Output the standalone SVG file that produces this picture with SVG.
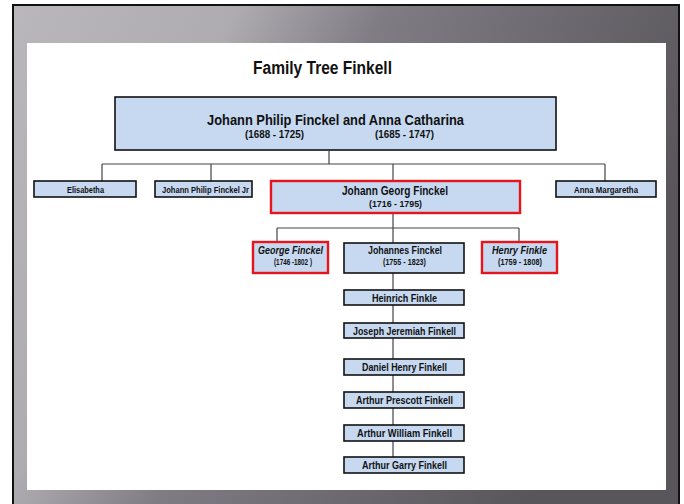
<svg xmlns="http://www.w3.org/2000/svg" width="684" height="504" viewBox="0 0 684 504">
<defs>
<linearGradient id="frame" x1="0" y1="0" x2="1" y2="0.35">
<stop offset="0" stop-color="#b9b6bc"/>
<stop offset="0.3" stop-color="#aeabb1"/>
<stop offset="0.5" stop-color="#7f7c83"/>
<stop offset="1" stop-color="#58565b"/>
</linearGradient>
<style>
.box{fill:#c6d9f1;stroke:#111;stroke-width:1.6}
.red{fill:#c6d9f1;stroke:#e8141c;stroke-width:2.4}
.t{font-family:"Liberation Sans",Arial,sans-serif;font-weight:bold;fill:#111;text-anchor:middle}
.it{font-style:italic}
.ln{fill:none;stroke:#444;stroke-width:1.2}
</style>
</defs>
<rect x="0" y="0" width="684" height="504" fill="#ffffff"/>
<rect x="13" y="5" width="666" height="500" fill="url(#frame)" stroke="#111" stroke-width="2"/>
<rect x="27" y="43" width="639" height="447" fill="#ffffff"/>
<text class="t" x="322.5" y="74" font-size="18" textLength="139" lengthAdjust="spacingAndGlyphs">Family Tree Finkell</text>
<g id="connectors">
<path class="ln" d="M329 151V164M102 164H605M102 164V181M211 164V181M393 164V181M605 164V181"/>
<path class="ln" d="M393 213V228M277 228H519M277 228V242M519 228V242M393 228V243"/>
<path class="ln" d="M393 273V290M393 305V323M393 338V359M393 375V392M393 408V425M393 441V457"/>
</g>
<g id="n-parents">
<rect class="box" x="115" y="97" width="441" height="53" stroke-width="2"/>
<text class="t" x="335.5" y="125" font-size="15" textLength="257" lengthAdjust="spacingAndGlyphs">Johann Philip Finckel and Anna Catharina</text>
<text class="t" x="274.5" y="138" font-size="10.5" textLength="59" lengthAdjust="spacingAndGlyphs">(1688 - 1725)</text>
<text class="t" x="404.5" y="138" font-size="10.5" textLength="59" lengthAdjust="spacingAndGlyphs">(1685 - 1747)</text>
</g>
<g id="n-elisabetha">
<rect class="box" x="34" y="181" width="102" height="16"/>
<text class="t" x="85.5" y="192.5" font-size="9.5" textLength="37" lengthAdjust="spacingAndGlyphs">Elisabetha</text>
</g>
<g id="n-jpjr">
<rect class="box" x="155" y="181" width="97" height="16"/>
<text class="t" x="205.5" y="192.5" font-size="9.5" textLength="87" lengthAdjust="spacingAndGlyphs">Johann Philip Finckel Jr</text>
</g>
<g id="n-jgeorg">
<rect class="red" x="271" y="181" width="249" height="32"/>
<text class="t" x="395" y="195" font-size="12.5" textLength="106" lengthAdjust="spacingAndGlyphs">Johann Georg Finckel</text>
<text class="t" x="395.5" y="207" font-size="9.5" textLength="53" lengthAdjust="spacingAndGlyphs">(1716 - 1795)</text>
</g>
<g id="n-annam">
<rect class="box" x="556" y="181" width="100" height="16"/>
<text class="t" x="606" y="192.5" font-size="9.5" textLength="64" lengthAdjust="spacingAndGlyphs">Anna Margaretha</text>
</g>
<g id="n-george">
<rect class="red" x="253" y="242" width="75" height="31"/>
<text class="t it" x="290.5" y="254" font-size="11" textLength="65" lengthAdjust="spacingAndGlyphs">George Finckel</text>
<text class="t" x="293" y="265" font-size="8.5" textLength="38" lengthAdjust="spacingAndGlyphs">(1746 -1802 )</text>
</g>
<g id="n-johannes">
<rect class="box" x="344" y="243" width="120" height="30" stroke-width="1.8"/>
<text class="t" x="405" y="254" font-size="11" textLength="74" lengthAdjust="spacingAndGlyphs">Johannes Finckel</text>
<text class="t" x="404.5" y="265" font-size="8.5" textLength="43" lengthAdjust="spacingAndGlyphs">(1755 - 1823)</text>
</g>
<g id="n-henry">
<rect class="red" x="482" y="242" width="75" height="31"/>
<text class="t it" x="519.5" y="254" font-size="11" textLength="55" lengthAdjust="spacingAndGlyphs">Henry Finkle</text>
<text class="t" x="520" y="265" font-size="8.5" textLength="44" lengthAdjust="spacingAndGlyphs">(1759 - 1808)</text>
</g>
<g id="n-heinrich">
<rect class="box" x="344" y="290" width="120" height="15"/>
<text class="t" x="404.5" y="301.5" font-size="11" textLength="65" lengthAdjust="spacingAndGlyphs">Heinrich Finkle</text>
</g>
<g id="n-joseph">
<rect class="box" x="344" y="323" width="120" height="15"/>
<text class="t" x="404.5" y="334.5" font-size="11" textLength="103" lengthAdjust="spacingAndGlyphs">Joseph Jeremiah Finkell</text>
</g>
<g id="n-daniel">
<rect class="box" x="344" y="359" width="120" height="16"/>
<text class="t" x="404.5" y="371" font-size="11" textLength="85" lengthAdjust="spacingAndGlyphs">Daniel Henry Finkell</text>
</g>
<g id="n-aprescott">
<rect class="box" x="344" y="392" width="120" height="16"/>
<text class="t" x="404.5" y="404" font-size="11" textLength="97" lengthAdjust="spacingAndGlyphs">Arthur Prescott Finkell</text>
</g>
<g id="n-awilliam">
<rect class="box" x="344" y="425" width="120" height="16"/>
<text class="t" x="404.5" y="437" font-size="11" textLength="95" lengthAdjust="spacingAndGlyphs">Arthur William Finkell</text>
</g>
<g id="n-agarry">
<rect class="box" x="344" y="457" width="120" height="16"/>
<text class="t" x="404.5" y="469" font-size="11" textLength="85" lengthAdjust="spacingAndGlyphs">Arthur Garry Finkell</text>
</g>
</svg>
